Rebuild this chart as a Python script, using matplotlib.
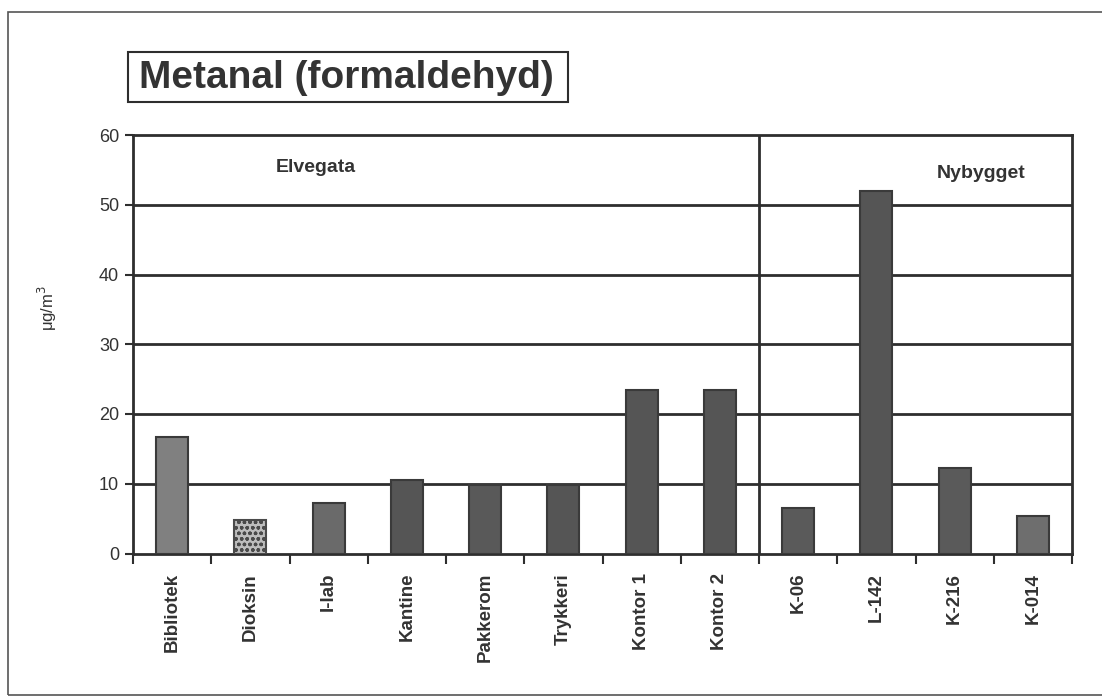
import numpy as np
import matplotlib.pyplot as plt
from matplotlib.patches import Rectangle

plt.rcParams['font.family'] = ['Liberation Sans', 'DejaVu Sans']

# Metanal measurements per room
rooms = ['Bibliotek', 'Dioksin', 'I-lab', 'Kantine', 'Pakkerom', 'Trykkeri',
         'Kontor 1', 'Kontor 2', 'K-06', 'L-142', 'K-216', 'K-014']
values = [16.7, 4.8, 7.3, 10.5, 9.8, 9.8, 23.5, 23.5, 6.5, 52.0, 12.2, 5.4]
bar_colors = ['#808080', '#bdbdbd', '#6a6a6a', '#555555', '#595959', '#555555',
              '#555555', '#555555', '#5a5a5a', '#555555', '#5a5a5a', '#6e6e6e']
groups = ['Elvegata', 'Nybygget']
split_after = 8  # first Nybygget room

ink = '#2e2e2e'

fig = plt.figure(figsize=(11.02, 7.0), dpi=100)
W, H = 1102, 700

# outer frame around the whole figure
fig.patches.append(Rectangle((8 / W, 5 / H), 1.1, 683 / H, transform=fig.transFigure,
                             fill=False, edgecolor='#555555', linewidth=1.2))

# title in a box
fig.text(139 / W, 1 - 78 / H, 'Metanal (formaldehyd)', fontsize=28, fontweight='bold',
         color='#333333', va='center', ha='left')
fig.patches.append(Rectangle((128 / W, 1 - 102 / H), 440 / W, 50 / H, transform=fig.transFigure,
                             fill=False, edgecolor=ink, linewidth=1.5))

ax = fig.add_axes([133 / W, 1 - 553.5 / H, (1072 - 133) / W, (553.5 - 135) / H])
x = np.arange(len(rooms))

for yv in range(10, 60, 10):
    ax.axhline(yv, color=ink, linewidth=2, zorder=1)

bars = ax.bar(x, values, width=0.41, color=bar_colors, edgecolor='#3a3a3a',
              linewidth=1.5, zorder=3)
bars[1].set_hatch('ooo')
bars[1].set_edgecolor('#4a4a4a')

ax.axvline(split_after - 0.5, color=ink, linewidth=2, zorder=2)

ax.text(1.83, 55.4, groups[0], fontsize=14, fontweight='bold', color='#333333',
        ha='center', va='center')
ax.text(10.34, 54.5, groups[1], fontsize=14, fontweight='bold', color='#333333',
        ha='center', va='center')

ax.set_xlim(-0.5, len(rooms) - 0.5)
ax.set_ylim(0, 60)
ax.set_yticks(range(0, 61, 10))
ax.tick_params(axis='y', direction='out', length=6, width=1.5, color=ink,
               labelsize=13, labelcolor='#333333', pad=4)

ax.set_xticks(x)
ax.set_xticklabels(rooms, rotation=90, fontsize=13.5, fontweight='bold', color='#333333')
ax.set_xticks(np.arange(-0.5, len(rooms), 1.0), minor=True)
ax.tick_params(axis='x', which='major', length=0, pad=14)
ax.tick_params(axis='x', which='minor', direction='out', length=7, width=1.5, color=ink)

for side in ['left', 'bottom', 'top', 'right']:
    ax.spines[side].set_color(ink)
    ax.spines[side].set_linewidth(2)

ax.set_ylabel('μg/m$^3$', fontsize=12, color='#333333')
ax.yaxis.set_label_coords(-0.079, 0.587)

fig.savefig('out.png', dpi=100, facecolor='white')
